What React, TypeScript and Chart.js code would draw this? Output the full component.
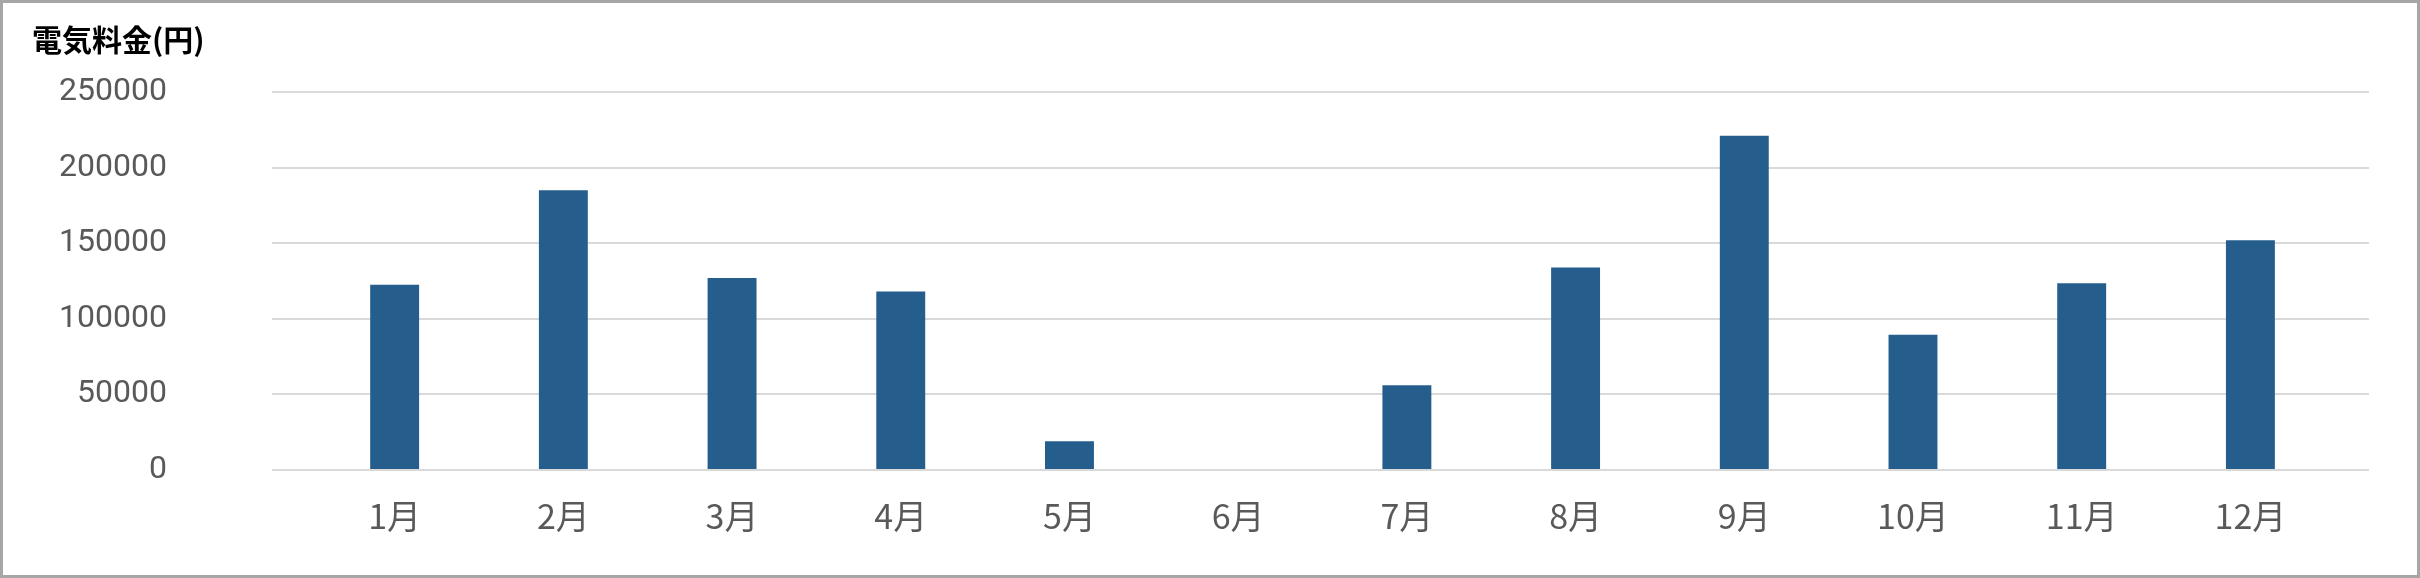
import React, { useEffect, useRef } from 'react';
import Chart from 'chart.js/auto';

const months = ['1月', '2月', '3月', '4月', '5月', '6月', '7月', '8月', '9月', '10月', '11月', '12月'];
const costs = [122500, 185000, 127000, 118000, 19000, 0, 56000, 134000, 221000, 89500, 123500, 152000];
const yTicks = [0, 50000, 100000, 150000, 200000, 250000];
const titleText = '電気料金(円)';

const App: React.FC = () => {
  const canvasRef = useRef<HTMLCanvasElement>(null);
  const chartRef = useRef<Chart | null>(null);

  useEffect(() => {
    document.body.style.margin = '0';
    if (!canvasRef.current) return;
    const ctx = canvasRef.current.getContext('2d');
    if (!ctx) return;

    chartRef.current = new Chart(ctx, {
      type: 'bar',
      data: {
        datasets: [{
          label: titleText,
          data: months.map((_, i) => ({ x: i, y: costs[i] })),
          backgroundColor: '#255D8D',
          borderWidth: 0,
          categoryPercentage: 1,
          barPercentage: 0.29,
        }]
      },
      options: {
        animation: false,
        responsive: true,
        maintainAspectRatio: false,
        layout: {
          padding: { left: 29, right: 48, top: 0, bottom: 13 }
        },
        plugins: {
          legend: { display: false },
          tooltip: { enabled: false },
          title: {
            display: true,
            text: titleText,
            align: 'start',
            color: '#000000',
            font: { family: '"Noto Sans CJK JP", "Noto Sans", sans-serif', size: 30, weight: 'bold' },
            padding: { top: 19, bottom: 34 },
          }
        },
        scales: {
          x: {
            type: 'linear',
            offset: false,
            min: -0.727,
            max: 11.703,
            afterBuildTicks: (axis) => {
              axis.ticks = months.map((_, i) => ({ value: i }));
            },
            grid: { display: false, drawTicks: false },
            border: { display: false },
            ticks: {
              autoSkip: false,
              maxRotation: 0,
              padding: 25.6,
              color: '#595959',
              callback: (value) => months[Number(value)] ?? '',
              font: { family: '"Noto Sans CJK JP", sans-serif', size: 34 }
            }
          },
          y: {
            min: 0,
            max: 250000,
            afterBuildTicks: (axis) => {
              axis.ticks = yTicks.map(v => ({ value: v }));
            },
            afterFit: (axis) => {
              // keep the label gap from pushing the plot area down
              axis.width = 240;
              axis.paddingTop = 20;
              axis.paddingBottom = 20;
            },
            grid: { color: '#D9D9D9', lineWidth: 2, drawTicks: false },
            border: { display: false },
            ticks: {
              padding: 105,
              color: '#595959',
              callback: (value) => String(value),
              font: { family: 'Roboto, "Liberation Sans", sans-serif', size: 32 }
            }
          }
        }
      }
    });

    return () => {
      if (chartRef.current) {
        chartRef.current.destroy();
        chartRef.current = null;
      }
    };
  }, []);

  return (
    <div style={{ width: '2420px', height: '578px', boxSizing: 'border-box', border: '3px solid #A6A6A6', background: '#ffffff' }}>
      <div style={{ position: 'relative', width: '100%', height: '100%' }}>
        <canvas ref={canvasRef} />
      </div>
    </div>
  );
};

export default App;
